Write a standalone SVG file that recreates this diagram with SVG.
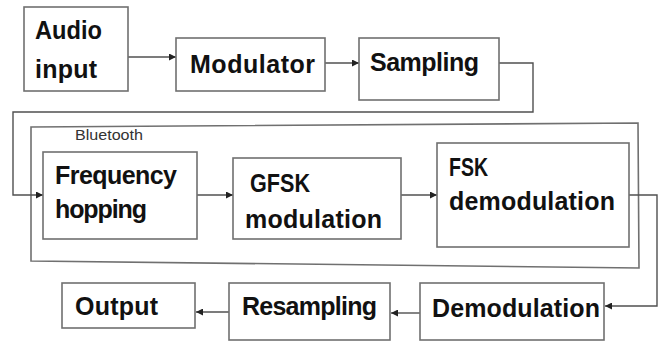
<svg xmlns="http://www.w3.org/2000/svg" width="664" height="342" viewBox="0 0 664 342">
<style>
.box{fill:#fff;stroke:#707070;stroke-width:1.6}
.t{font-family:"Liberation Sans",Arial,sans-serif;font-weight:bold;font-size:25px;fill:#111}
.s{font-family:"Liberation Sans",Arial,sans-serif;font-size:15px;fill:#333}
.c{fill:none;stroke:#505050;stroke-width:1.4}
</style>
<defs>
<marker id="ah" viewBox="0 0 10 10" refX="10" refY="5" markerWidth="7" markerHeight="7" markerUnits="userSpaceOnUse" orient="auto">
<path d="M0,0 L10,5 L0,10 z" fill="#222"/>
</marker>
</defs>
<rect width="664" height="342" fill="#fff"/>
<g id="bluetooth">
<polygon points="31,127 638,123 639,268 31,261" fill="none" stroke="#707070" stroke-width="1.6"/>
<text class="s" x="75" y="140" textLength="68" lengthAdjust="spacingAndGlyphs">Bluetooth</text>
</g>
<g id="connectors">
<path class="c" d="M128,57 H176" marker-end="url(#ah)"/>
<path class="c" d="M325,63 H359" marker-end="url(#ah)"/>
<path class="c" d="M499,63 H533 V112 H13 V195 H43" marker-end="url(#ah)"/>
<path class="c" d="M197,195 H233" marker-end="url(#ah)"/>
<path class="c" d="M401,195 H437" marker-end="url(#ah)"/>
<path class="c" d="M629,195 H657 V306 H605" marker-end="url(#ah)"/>
<path class="c" d="M420,313 H391" marker-end="url(#ah)"/>
<path class="c" d="M242,312 H196" marker-end="url(#ah)"/>
</g>
<g id="audio-input">
<rect class="box" x="24" y="7" width="104" height="84"/>
<text class="t" x="35" y="39" textLength="67" lengthAdjust="spacingAndGlyphs">Audio</text>
<text class="t" x="35" y="78" textLength="62" lengthAdjust="spacing">input</text>
</g>
<g id="modulator">
<rect class="box" x="176" y="38" width="149" height="53"/>
<text class="t" x="190" y="73" textLength="125" lengthAdjust="spacing">Modulator</text>
</g>
<g id="sampling">
<rect class="box" x="359" y="38" width="140" height="62"/>
<text class="t" x="370" y="71" textLength="109" lengthAdjust="spacing">Sampling</text>
</g>
<g id="frequency-hopping">
<rect class="box" x="43" y="152" width="154" height="87"/>
<text class="t" x="55" y="184" textLength="122" lengthAdjust="spacing">Frequency</text>
<text class="t" x="55" y="218" textLength="92" lengthAdjust="spacing">hopping</text>
</g>
<g id="gfsk-modulation">
<rect class="box" x="233" y="158" width="168" height="81"/>
<text class="t" x="250" y="192" textLength="60" lengthAdjust="spacingAndGlyphs">GFSK</text>
<text class="t" x="245" y="228" textLength="137" lengthAdjust="spacing">modulation</text>
</g>
<g id="fsk-demodulation">
<rect class="box" x="437" y="143" width="192" height="104"/>
<text class="t" x="449" y="176" textLength="39" lengthAdjust="spacingAndGlyphs">FSK</text>
<text class="t" x="449" y="210" textLength="166" lengthAdjust="spacing">demodulation</text>
</g>
<g id="demodulation">
<rect class="box" x="420" y="283" width="184" height="57"/>
<text class="t" x="432" y="317" textLength="168" lengthAdjust="spacing">Demodulation</text>
</g>
<g id="resampling">
<rect class="box" x="229" y="283" width="161" height="57"/>
<text class="t" x="242" y="315" textLength="135" lengthAdjust="spacing">Resampling</text>
</g>
<g id="output">
<rect class="box" x="62" y="283" width="133" height="45"/>
<text class="t" x="75" y="315" textLength="83" lengthAdjust="spacing">Output</text>
</g>
</svg>
